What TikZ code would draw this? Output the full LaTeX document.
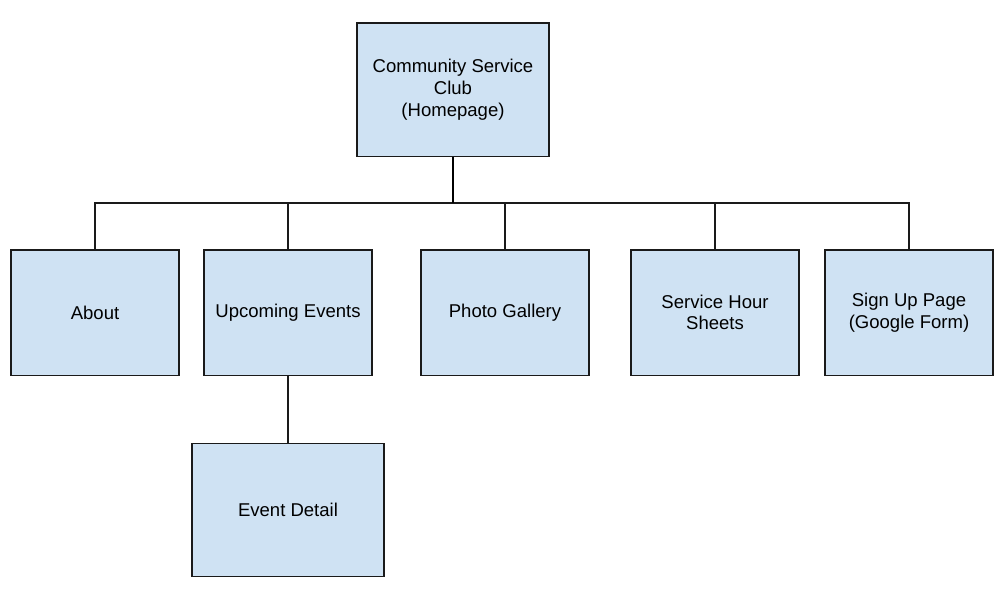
\documentclass[tikz,border=0pt]{standalone}
\usepackage{fontspec}
\setmainfont{Liberation Sans}
\usepackage{xcolor}
\definecolor{boxblue}{HTML}{CFE2F3}
\definecolor{boxline}{HTML}{1A1A1A}
\usetikzlibrary{calc}

\begin{document}
\begin{tikzpicture}[x=0.75pt,y=-0.75pt,
  every node/.style={font=\fontsize{13.9}{16.3}\selectfont,align=center,inner sep=0pt},
  page/.style={draw=boxline,line width=1pt,fill=boxblue,minimum width=126pt,minimum height=94pt},
  bigpage/.style={page,minimum width=144pt,minimum height=100pt},
  link/.style={draw=boxline,line width=1pt},
  trunk/.style={draw=black,line width=1.8pt}]

\useasboundingbox (0,0) rectangle (1004,604);

% homepage
\node[bigpage] (home) at (453,89.5) {Community Service\\Club\\(Homepage)};

% second level pages
\node[page] (about)  at (95,312.5)  {About};
\node[page] (events) at (288,312.5) {Upcoming Events};
\node[page] (photo)  at (505,312.5) {Photo Gallery};
\node[page] (hours)  at (715,312.5) {Service Hour\\Sheets};
\node[page] (signup) at (909,312.5) {Sign Up Page\\(Google Form)};

% third level
\node[bigpage] (detail) at (288,510) {Event Detail};

% connectors
\coordinate (bus) at (453,203);
\draw[link] (bus) -| (about.north);
\draw[link] (bus) -| (events.north);
\draw[link] (bus) -| (photo.north);
\draw[link] (bus) -| (hours.north);
\draw[link] (bus) -| (signup.north);
\draw[trunk] (home.south) -- (bus);
\draw[link] (events.south) -- (detail.north);
\end{tikzpicture}
\end{document}
